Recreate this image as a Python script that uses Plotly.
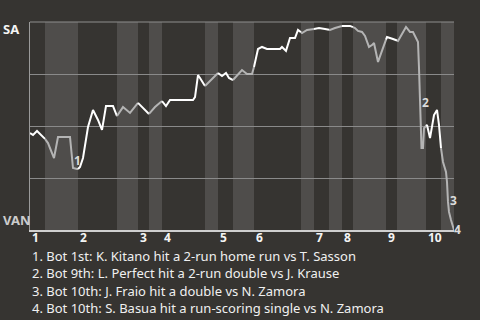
import numpy as np
import plotly.graph_objects as go

# Game progress position (event axis, 0..424) and SA win probability (%)
pos = [0, 3, 7, 9, 13, 15, 18, 24, 28, 40, 43, 47, 48, 50, 53, 58, 63, 68, 72, 76,
       83, 87, 93, 100, 108, 119, 125, 132, 136, 140, 163, 165, 168, 170, 175, 182,
       188, 192, 196, 199, 203, 208, 212, 217, 222, 224, 228, 232, 237, 250, 252,
       256, 260, 265, 268, 272, 277, 283, 289, 295, 300, 305, 312, 320, 325, 328,
       332, 335, 339, 342, 344, 348, 352, 357, 363, 368, 376, 380, 383, 388, 389,
       390, 391, 391.5, 393, 394, 397, 400, 404, 407, 409, 411, 413, 416, 417, 418,
       419, 421, 423, 424]
sa_wp = [46.6, 45.7, 47.6, 46.6, 44.7, 43.8, 41.8, 34.6, 44.7, 44.7, 29.8, 29.3,
         29.3, 30.3, 34.6, 49.5, 57.7, 52.9, 48.1, 59.6, 59.6, 54.8, 59.1, 56.3,
         61.1, 55.8, 59.1, 62.0, 59.6, 62.5, 62.5, 63.9, 74.5, 73.1, 69.2, 72.6,
         75.5, 74.0, 75.5, 73.1, 72.1, 74.5, 76.9, 75.0, 75.0, 78.4, 87.0, 88.0,
         87.0, 87.0, 88.0, 86.1, 92.3, 92.3, 96.2, 94.7, 96.2, 96.6, 97.1, 96.6,
         96.2, 97.1, 98.1, 98.1, 97.1, 95.7, 95.2, 93.3, 88.0, 88.9, 89.9, 80.8,
         86.5, 92.8, 91.8, 90.9, 97.6, 95.2, 95.2, 90.4, 77.9, 64.9, 51.9, 39.4,
         39.4, 49.0, 50.5, 44.2, 55.3, 57.7, 50.5, 39.4, 32.7, 27.9, 23.1, 13.5,
         8.7, 4.8, 1.9, 0.0]

# Half-inning boundaries (top/bottom alternating) on the event axis
half_starts = [0, 15, 48, 87, 108, 119, 132, 175, 188, 203, 224, 271, 284, 299,
               312, 323, 356, 367, 396, 411]
game_end = 424
inning_labels = ["1", "2", "3", "4", "5", "6", "7", "8", "9", "10"]

# Key plays (label anchor on the event axis / win-probability axis)
play_num = ["1", "2", "3", "4"]
play_pos = [47, 395.7, 423.7, 424]
play_wp = [33.4, 61.2, 14.4, 0.2]
play_text = [
    "1. Bot 1st: K. Kitano hit a 2-run home run vs T. Sasson",
    "2. Bot 9th: L. Perfect hit a 2-run double vs J. Krause",
    "3. Bot 10th: J. Fraio hit a double vs N. Zamora",
    "4. Bot 10th: S. Basua hit a run-scoring single vs N. Zamora",
]

BG = "#363431"
BAND = "#4f4d4b"
FONT = "Noto Sans"

fig = go.Figure()

pos_a = np.array(pos, dtype=float)
wp_a = np.array(sa_wp, dtype=float)
bounds = half_starts + [game_end]
shapes = []
for i in range(len(half_starts)):
    a, b = bounds[i], bounds[i + 1]
    is_bottom = i % 2 == 1
    if is_bottom:
        shapes.append(dict(type="rect", xref="x", yref="paper", x0=a, x1=b, y0=0, y1=1,
                           fillcolor=BAND, line=dict(width=0), layer="below"))
    mask = (pos_a > a) & (pos_a < b)
    xs = np.concatenate([[a], pos_a[mask], [b]])
    ys = np.concatenate([[np.interp(a, pos_a, wp_a)], wp_a[mask], [np.interp(b, pos_a, wp_a)]])
    fig.add_trace(go.Scatter(x=xs, y=ys, mode="lines",
                             line=dict(color="#b4b4b4" if is_bottom else "#ffffff", width=2),
                             hoverinfo="skip", showlegend=False, cliponaxis=False))

# top frame line
shapes.append(dict(type="line", xref="paper", yref="paper", x0=0, x1=1, y0=1, y1=1,
                   line=dict(color="#8e8e8e", width=1), layer="above"))

annotations = []
for k, lab in enumerate(inning_labels):
    annotations.append(dict(x=half_starts[2 * k], y=0, xref="x", yref="paper", text="<b>%s</b>" % lab,
                            showarrow=False, xanchor="left", yanchor="middle", xshift=0, yshift=-7,
                            font=dict(family=FONT, size=12, color="#f4f4f4")))
for n, px, py in zip(play_num, play_pos, play_wp):
    annotations.append(dict(x=px, y=py, xref="x", yref="y", text="<b>%s</b>" % n, showarrow=False,
                            xanchor="center", yanchor="middle", xshift=3 if n == "4" else 0,
                            font=dict(family=FONT, size=12, color="#dcdcdc")))
for j, t in enumerate(play_text):
    annotations.append(dict(x=0, y=0, xref="paper", yref="paper", text=t, showarrow=False,
                            xanchor="left", yanchor="middle", xshift=0, yshift=-25.5 - 17.5 * j,
                            font=dict(family=FONT, size=13, color="#f0f0f0")))
annotations.append(dict(x=0, y=1, xref="paper", yref="paper", text="<b>SA</b>", showarrow=False,
                        xanchor="left", yanchor="middle", xshift=-29, yshift=-7,
                        font=dict(family=FONT, size=13, color="#f4f4f4")))
annotations.append(dict(x=0, y=0, xref="paper", yref="paper", text="<b>VAN</b>", showarrow=False,
                        xanchor="left", yanchor="middle", xshift=-29, yshift=10,
                        font=dict(family=FONT, size=13, color="#cccccc")))

fig.update_layout(
    width=480, height=320,
    margin=dict(l=30, r=26, t=22, b=90),
    paper_bgcolor=BG, plot_bgcolor=BG,
    shapes=shapes, annotations=annotations,
    xaxis=dict(range=[0, game_end], showticklabels=False, showgrid=False, zeroline=False,
               showline=True, linecolor="#cfcfcf", linewidth=2, fixedrange=True),
    yaxis=dict(range=[0, 100], tickvals=[0, 25, 50, 75, 100], showticklabels=False,
               showgrid=True, gridcolor="#8a8a8a", gridwidth=1, zeroline=False,
               showline=True, linecolor="#9a9a9a", linewidth=1, fixedrange=True),
    showlegend=False,
)
fig.write_html("out.html")
